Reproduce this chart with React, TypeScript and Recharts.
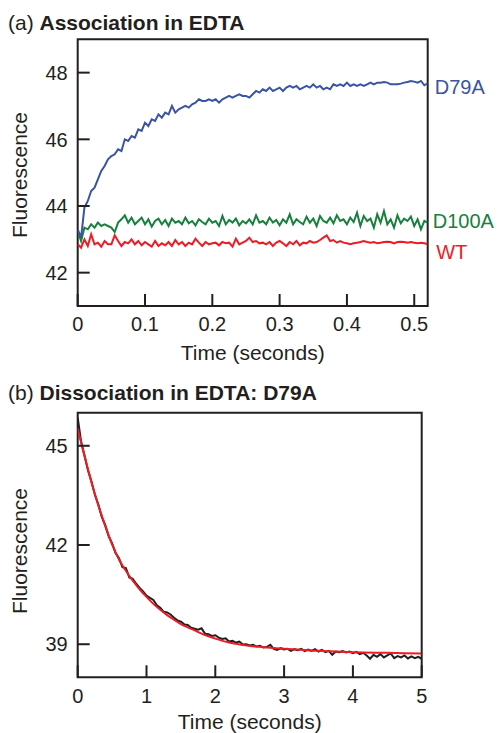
import { LineChart, Line, XAxis, YAxis, ReferenceArea } from "recharts";

const INK = "#231f20";
const BLUE = "#3a54a4";
const GREEN = "#18803c";
const RED = "#ec1c24";
const FONT = "'Liberation Sans', Arial, Helvetica, sans-serif";

// (a) association in EDTA, one sample every 5 ms (0 .. 0.52 s)
const ASSOC_STEP = 0.005;
const d79a = [
  43.30, 43.05, 43.95, 44.15, 44.45, 44.55, 44.80, 45.05, 45.20, 45.40,
  45.50, 45.55, 45.70, 45.65, 46.00, 45.95, 46.10, 46.05, 46.30, 46.25,
  46.50, 46.40, 46.60, 46.55, 46.75, 46.65, 46.80, 46.75, 47.00, 46.80,
  46.90, 46.95, 47.00, 46.95, 47.05, 47.10, 47.20, 47.15, 47.15, 47.20,
  47.15, 47.20, 47.10, 47.20, 47.25, 47.30, 47.25, 47.30, 47.35, 47.30,
  47.30, 47.25, 47.35, 47.45, 47.40, 47.50, 47.45, 47.55, 47.45, 47.50,
  47.55, 47.45, 47.55, 47.60, 47.55, 47.60, 47.50, 47.55, 47.60, 47.55,
  47.65, 47.55, 47.60, 47.50, 47.55, 47.50, 47.65, 47.60, 47.65, 47.60,
  47.70, 47.60, 47.65, 47.60, 47.65, 47.60, 47.65, 47.70, 47.65, 47.70,
  47.70, 47.72, 47.70, 47.65, 47.65, 47.65, 47.67, 47.70, 47.72, 47.75,
  47.73, 47.70, 47.75, 47.62, 47.68,
];
const d100a = [
  43.25, 42.95, 43.35, 43.30, 43.45, 43.35, 43.50, 43.40, 43.45, 43.40,
  43.35, 43.22, 43.50, 43.60, 43.72, 43.50, 43.65, 43.45, 43.55, 43.65,
  43.45, 43.60, 43.38, 43.55, 43.62, 43.45, 43.58, 43.40, 43.62, 43.50,
  43.55, 43.45, 43.65, 43.48, 43.55, 43.42, 43.60, 43.52, 43.45, 43.62,
  43.50, 43.55, 43.40, 43.70, 43.45, 43.58, 43.50, 43.62, 43.42, 43.55,
  43.48, 43.60, 43.45, 43.72, 43.50, 43.55, 43.45, 43.65, 43.50, 43.58,
  43.42, 43.60, 43.50, 43.75, 43.45, 43.60, 43.52, 43.45, 43.68, 43.50,
  43.62, 43.40, 43.70, 43.55, 43.50, 43.65, 43.48, 43.72, 43.55, 43.60,
  43.45, 43.65, 43.52, 43.80, 43.40, 43.70, 43.55, 43.62, 43.35, 43.75,
  43.50, 43.85, 43.45, 43.60, 43.35, 43.72, 43.48, 43.62, 43.55, 43.68,
  43.40, 43.60, 43.30, 43.55, 43.50,
];
const wt = [
  42.85, 42.75, 43.00, 42.80, 43.15, 42.85, 42.90, 42.78, 42.95, 42.85,
  42.85, 43.12, 42.95, 42.80, 42.92, 42.88, 43.00, 42.85, 42.95, 42.82,
  42.92, 42.85, 42.78, 42.95, 42.80, 42.88, 42.82, 42.92, 42.80, 42.98,
  42.85, 42.92, 42.80, 42.90, 42.85, 43.02, 42.90, 42.80, 42.92, 42.85,
  42.88, 42.90, 42.82, 42.92, 42.88, 42.90, 42.78, 43.02, 42.85, 42.90,
  42.95, 43.05, 42.92, 42.95, 42.88, 42.90, 42.85, 42.92, 42.80, 42.90,
  42.95, 42.88, 42.80, 42.92, 42.85, 42.95, 42.82, 42.90, 42.88, 42.95,
  42.90, 42.92, 42.98, 43.05, 43.12, 42.95, 42.98, 42.90, 42.95, 42.90,
  42.88, 42.85, 42.88, 42.90, 42.92, 42.95, 42.92, 42.90, 42.92, 42.88,
  42.90, 42.92, 42.93, 42.92, 42.88, 42.92, 42.93, 42.92, 42.90, 42.92,
  42.90, 42.88, 42.90, 42.88, 42.85,
];
const assocTicksX = [0, 0.1, 0.2, 0.3, 0.4, 0.5];
const assocTicksY = [42, 44, 46, 48];

// (b) dissociation of D79A, one sample every 50 ms (0 .. 5 s), plus the fitted curve
const DISSOC_STEP = 0.05;
const d79aOff = [
  45.85, 45.12, 44.70, 44.25, 43.92, 43.52, 43.22, 42.85, 42.60, 42.27,
  42.05, 41.76, 41.60, 41.33, 41.30, 41.02, 40.98, 40.83, 40.70, 40.60,
  40.47, 40.40, 40.34, 40.18, 40.10, 39.98, 39.96, 39.90, 39.80, 39.72,
  39.68, 39.60, 39.58, 39.50, 39.47, 39.44, 39.48, 39.32, 39.30, 39.25,
  39.27, 39.20, 39.16, 39.18, 39.08, 39.10, 39.05, 39.08, 38.99, 39.00,
  38.96, 38.98, 38.93, 38.95, 38.90, 38.92, 38.98, 38.86, 38.83, 38.88,
  38.84, 38.86, 38.80, 38.85, 38.82, 38.86, 38.79, 38.84, 38.80, 38.85,
  38.78, 38.83, 38.76, 38.80, 38.68, 38.78, 38.76, 38.79, 38.75, 38.78,
  38.73, 38.77, 38.70, 38.74, 38.66, 38.56, 38.68, 38.62, 38.70, 38.60,
  38.66, 38.72, 38.58, 38.64, 38.60, 38.66, 38.57, 38.63, 38.58, 38.62,
  38.56,
];
const fitTime = [
  0, 0.1, 0.2, 0.3, 0.4, 0.5, 0.6, 0.7, 0.8, 0.9, 1.0, 1.1, 1.2, 1.3, 1.4, 1.5,
  1.6, 1.7, 1.8, 1.9, 2.0, 2.2, 2.4, 2.6, 2.8, 3.0, 3.25, 3.5, 3.75, 4.0, 4.5, 5.0,
];
const fitValue = [
  45.52, 44.68, 43.90, 43.20, 42.58, 42.02, 41.56, 41.22, 40.92, 40.66, 40.43, 40.22, 40.04, 39.88, 39.74, 39.61,
  39.51, 39.42, 39.32, 39.24, 39.17, 39.05, 38.98, 38.93, 38.89, 38.86, 38.83, 38.80, 38.78, 38.76, 38.74, 38.72,
];
const dissocTicksX = [0, 1, 2, 3, 4, 5];
const dissocTicksY = [39, 42, 45];

const sampled = (vals: number[], step: number) =>
  vals.map((v, i) => ({ t: +(i * step).toFixed(3), v }));

const assocBlue = sampled(d79a, ASSOC_STEP);
const assocGreen = sampled(d100a, ASSOC_STEP);
const assocRed = sampled(wt, ASSOC_STEP);
const dissocData = sampled(d79aOff, DISSOC_STEP);
const fitData = fitTime.map((t, i) => ({ t, v: fitValue[i] }));

const TICK_LEN = 12;

// ticks point into the plot, so the tick line is drawn here next to the label
const YTick = (props: any) => {
  const { x, y, payload, gap } = props;
  const ax = x + gap;
  return (
    <g>
      <line x1={ax} y1={y} x2={ax + TICK_LEN} y2={y} stroke={INK} strokeWidth={2} />
      <text x={x} y={y} dy="0.36em" textAnchor="end" fill={INK} fontSize={20} fontFamily={FONT}>
        {payload.value}
      </text>
    </g>
  );
};

const XTick = (props: any) => {
  const { x, y, payload, gap } = props;
  const ay = y - gap;
  return (
    <g>
      <line x1={x} y1={ay} x2={x} y2={ay - TICK_LEN} stroke={INK} strokeWidth={2} />
      <text x={x} y={y} dy="0.72em" textAnchor="middle" fill={INK} fontSize={20} fontFamily={FONT}>
        {payload.value}
      </text>
    </g>
  );
};

const endLabel = (text: string, color: string, last: number, dx: number, dy: number) => (p: any) => {
  if (p.index !== last) return null;
  return (
    <text x={p.x + dx} y={p.y + dy} fill={color} fontSize={20} fontFamily={FONT}>
      {text}
    </text>
  );
};

const Txt = ({ left, top, children, center, rotate }: any) => (
  <div
    style={{
      position: "absolute",
      left,
      top,
      fontFamily: FONT,
      fontSize: 21,
      lineHeight: "21px",
      color: INK,
      whiteSpace: "nowrap",
      transform: rotate
        ? "translate(-50%, -50%) rotate(-90deg)"
        : center
        ? "translateX(-50%)"
        : undefined,
    }}
  >
    {children}
  </div>
);

export default function App() {
  return (
    <div style={{ position: "absolute", left: 0, top: 0, width: 498, height: 733, background: "#fff" }}>
      <Txt left={8} top={12.2}>
        (a) <b>Association in EDTA</b>
      </Txt>
      <div style={{ position: "absolute", left: 0, top: 0 }}>
        <LineChart width={498} height={370} margin={{ top: 39.3, right: 70.3, bottom: 34, left: 17.7 }}>
          <XAxis
            type="number"
            dataKey="t"
            domain={[0, 0.52]}
            ticks={assocTicksX}
            height={30}
            axisLine={false}
            tickLine={false}
            tickSize={0}
            tickMargin={11}
            tick={<XTick gap={11} />}
            allowDataOverflow
          />
          <YAxis
            type="number"
            domain={[41, 49]}
            ticks={assocTicksY}
            width={60}
            axisLine={false}
            tickLine={false}
            tickSize={0}
            tickMargin={10}
            tick={<YTick gap={10} />}
            allowDataOverflow
          />
          <ReferenceArea x1={0} x2={0.52} y1={41} y2={49} fill="none" stroke={INK} strokeWidth={2} />
          <Line
            data={assocRed}
            dataKey="v"
            type="linear"
            stroke={RED}
            strokeWidth={2}
            dot={false}
            activeDot={false}
            isAnimationActive={false}
            label={endLabel("WT", RED, wt.length - 1, 8.5, 15)}
          />
          <Line
            data={assocGreen}
            dataKey="v"
            type="linear"
            stroke={GREEN}
            strokeWidth={2}
            dot={false}
            activeDot={false}
            isAnimationActive={false}
            label={endLabel("D100A", GREEN, d100a.length - 1, 5, 5.3)}
          />
          <Line
            data={assocBlue}
            dataKey="v"
            type="linear"
            stroke={BLUE}
            strokeWidth={2}
            dot={false}
            activeDot={false}
            isAnimationActive={false}
            label={endLabel("D79A", BLUE, d79a.length - 1, 7, 10.9)}
          />
        </LineChart>
      </div>
      <Txt left={252.7} top={341.5} center>
        Time (seconds)
      </Txt>
      <Txt left={18.7} top={174.5} rotate>
        Fluorescence
      </Txt>

      <Txt left={8} top={381.5}>
        (b) <b>Dissociation in EDTA: D79A</b>
      </Txt>
      <div style={{ position: "absolute", left: 0, top: 370 }}>
        <LineChart width={498} height={363} margin={{ top: 42.7, right: 76.3, bottom: 25.7, left: 17.7 }}>
          <XAxis
            type="number"
            dataKey="t"
            domain={[0, 5]}
            ticks={dissocTicksX}
            height={30}
            axisLine={false}
            tickLine={false}
            tickSize={0}
            tickMargin={11}
            tick={<XTick gap={11} />}
            allowDataOverflow
          />
          <YAxis
            type="number"
            domain={[38, 46]}
            ticks={dissocTicksY}
            width={60}
            axisLine={false}
            tickLine={false}
            tickSize={0}
            tickMargin={10}
            tick={<YTick gap={10} />}
            allowDataOverflow
          />
          <ReferenceArea x1={0} x2={5} y1={38} y2={46} fill="none" stroke={INK} strokeWidth={2} />
          <Line
            data={dissocData}
            dataKey="v"
            type="linear"
            stroke={INK}
            strokeWidth={2}
            dot={false}
            activeDot={false}
            isAnimationActive={false}
          />
          <Line
            data={fitData}
            dataKey="v"
            type="monotone"
            stroke={RED}
            strokeWidth={2}
            dot={false}
            activeDot={false}
            isAnimationActive={false}
          />
        </LineChart>
      </div>
      <Txt left={249.7} top={710.5} center>
        Time (seconds)
      </Txt>
      <Txt left={18.7} top={551} rotate>
        Fluorescence
      </Txt>
    </div>
  );
}
